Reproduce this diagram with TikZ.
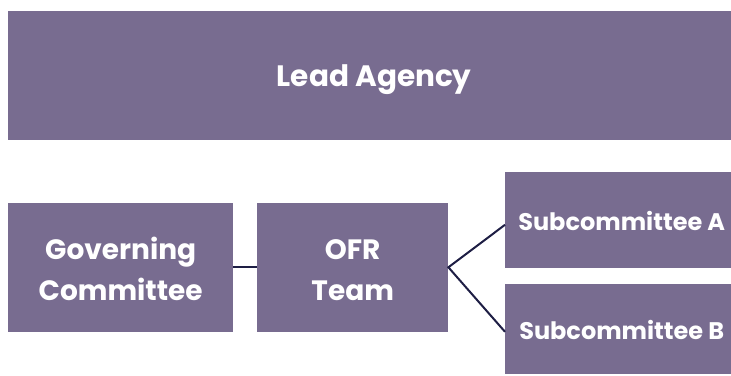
\documentclass[tikz,border=0pt]{standalone}
\usepackage{fontspec}
\setmainfont{Poppins}
\usetikzlibrary{calc}
\definecolor{boxfill}{RGB}{120,108,144}
\definecolor{linkcol}{RGB}{30,30,68}
\tikzset{
  orgbox/.style={fill=boxfill, text=white, font=\bfseries, inner sep=0pt, align=center, anchor=south west},
  link/.style={draw=linkcol, line width=2pt}
}
\begin{document}
\begin{tikzpicture}[x=1pt,y=1pt]
\useasboundingbox (0,0) rectangle (731,375);
\node[orgbox, minimum width=732pt, minimum height=129pt, font=\fontsize{29.5}{34}\bfseries] (lead) at (8,235) {\rule{0pt}{30pt}Lead Agency};
\node[orgbox, minimum width=225pt, minimum height=129pt, font=\fontsize{28}{41}\bfseries] (gov) at (8,43) {\rule{0pt}{25pt}Governing\\Committee};
\node[orgbox, minimum width=191pt, minimum height=129pt, font=\fontsize{28}{41}\bfseries] (ofr) at (257,43) {\rule{0pt}{25pt}OFR\\Team};
\node[orgbox, minimum width=233pt, minimum height=96pt, font=\fontsize{24}{28}\bfseries] (suba) at (505,107) {\rule{0pt}{22pt}Subcommittee A};
\node[orgbox, minimum width=233pt, minimum height=90pt, font=\fontsize{24}{28}\bfseries] (subb) at (505,1) {\rule{0pt}{22pt}Subcommittee B};
\coordinate (sa) at ($(suba.west)+(0,-5)$);
\coordinate (sb) at ($(subb.west)+(0,-3)$);
\draw[link] (gov.east) -- (ofr.west);
\draw[link] (sa) -- (ofr.east) -- (sb);
\end{tikzpicture}
\end{document}
